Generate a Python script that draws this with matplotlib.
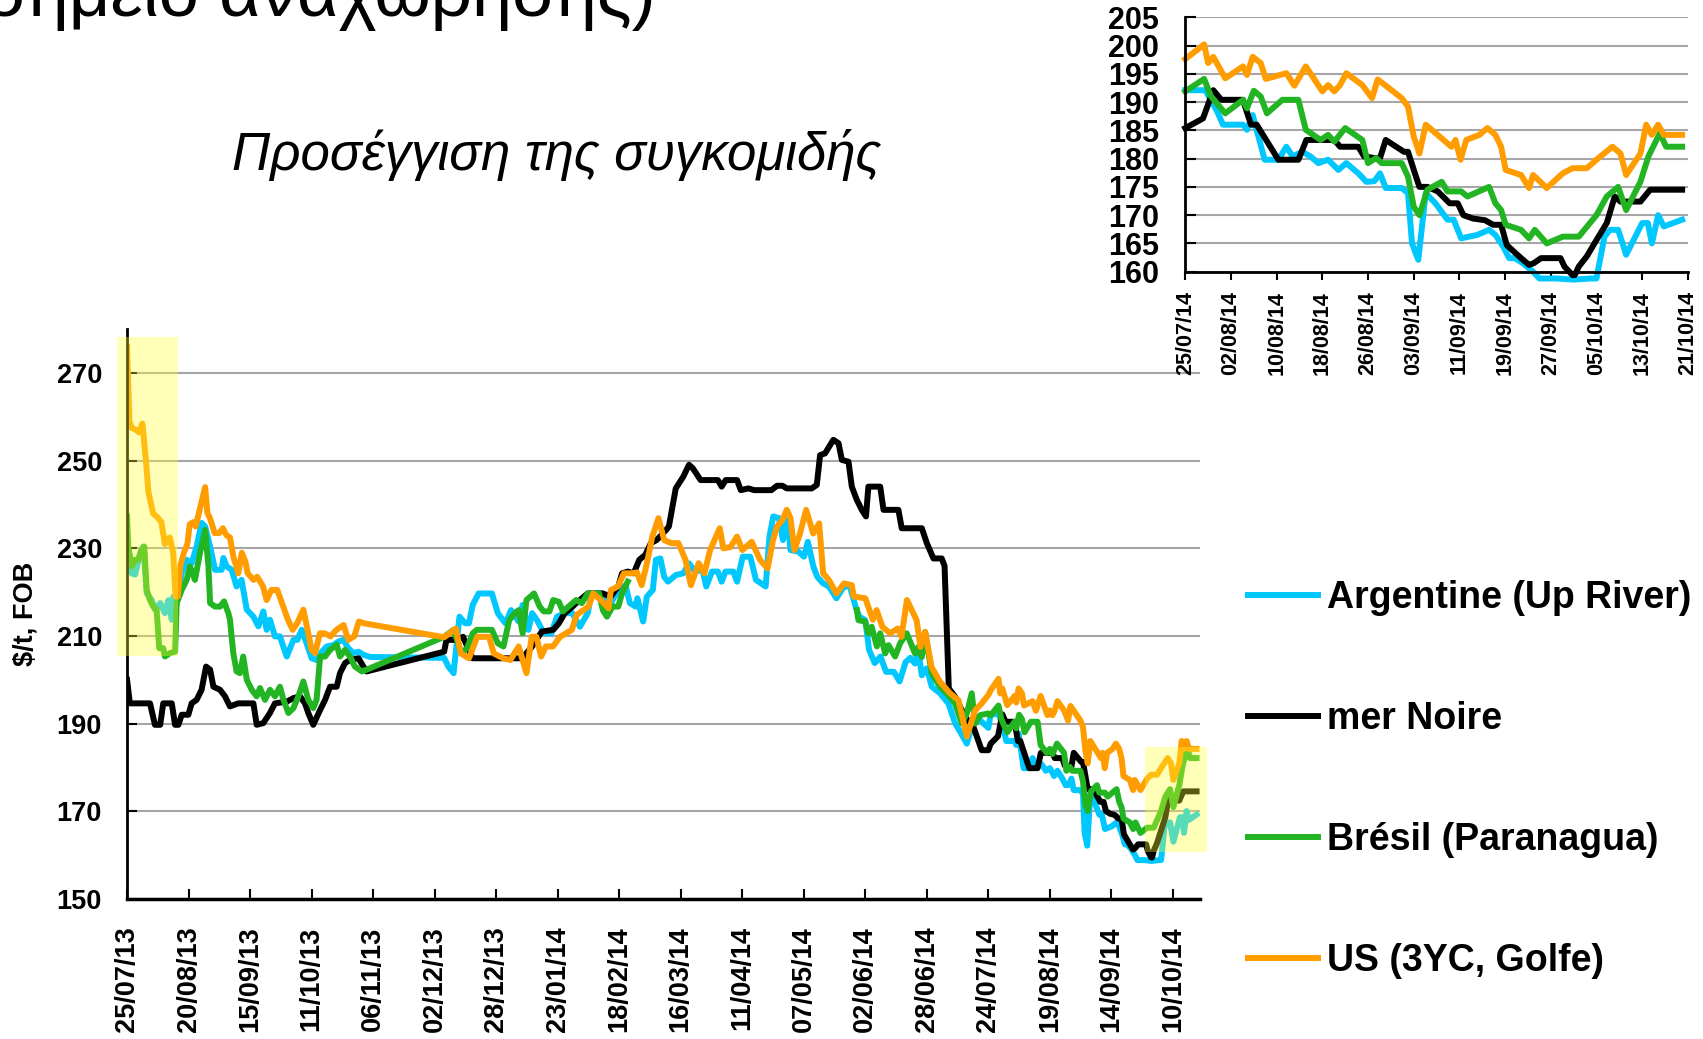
import matplotlib
matplotlib.use('Agg')
import matplotlib.pyplot as plt
import matplotlib.dates as mdates
from matplotlib.patches import Rectangle
import numpy as np
import pandas as pd

plt.rcParams['font.family'] = ['Liberation Sans', 'DejaVu Sans']
plt.rcParams['font.weight'] = 'bold'

start = pd.Timestamp('2013-07-25')

# wheat prices, $/t FOB -- x = days after 25/07/13
arg_days = [0, 2, 3.4, 5.5, 6.9, 8.3, 10.4, 11.8, 14, 16, 17.5, 18.9, 19.6, 21.7, 23.1, 25.2, 27.3, 29.4, 31.5, 33,
            35.1, 37.2, 40, 40.7, 42.1, 44.2, 46.3, 48.4, 50.6, 53.4, 55.5, 57.6, 59, 60.4, 62.5, 64.6, 67.5, 70.3,
            72, 73.8, 75.9, 78, 80.1, 82.3, 84.4, 87.2, 89.3, 91.4, 93.5, 95.6, 97.8, 99.9, 102.7, 134, 135.8, 138,
            140.5, 142.9, 144.5, 146.1, 148.6, 154.2, 156.7, 159.9, 162.3, 165.5, 167.2, 169.6, 171.2, 173.6, 176.1,
            179.3, 181.7, 185, 188.2, 191.4, 194.7, 196.3, 201.1, 202.8, 205.2, 208.4, 210.8, 212.5, 214.9, 215.7,
            218.1, 219.7, 222.2, 223.5, 225.4, 227, 228.6, 231.9, 235.1, 237.5, 240, 243.2, 244.8, 247.2, 249.7,
            251.3, 252.9, 256.2, 257.8, 260.2, 263.4, 265.8, 269.9, 271.5, 273.1, 275.5, 277.2, 278.8, 280.4, 283.6,
            286.1, 287.7, 290.1, 291.7, 294.2, 296.6, 299.8, 303, 305.5, 307.9, 309.5, 312, 313.6, 316, 318.4, 320.8,
            324.1, 326.5, 329, 331, 333, 334.4, 335.9, 338, 340.1, 343.6, 347.1, 350, 352.1, 354.9, 357, 359.8, 362,
            364, 365, 368.5, 370.6, 371.6, 375.1, 375.8, 376.8, 378.9, 381.3, 382.7, 383.8, 385.5, 386.9, 388.3, 390,
            391.8, 393.2, 395.3, 396.7, 398.1, 399.1, 400.1, 402.9, 404, 404.7, 405.8, 407.1, 408.8, 410.9, 412,
            413.3, 416.1, 418.2, 419.3, 420.7, 421.7, 422.7, 424.1, 425.9, 427, 430, 433, 436, 437, 438.4, 439.4,
            440.8, 442.2, 445, 446, 446.7, 447.8, 448.8, 452]
arg_vals = [227, 224.3, 224, 228.9, 230.4, 219.8, 218.2, 216, 217.5, 215.2, 218.2, 213.7, 219, 219, 224.3, 227.4,
            226.6, 230.4, 235.8, 235, 230.4, 225.1, 225.1, 227.8, 225.9, 225.1, 221.3, 222.8, 216, 214.4, 212.2,
            215.6, 211.4, 213.7, 209.9, 209.9, 205.3, 209.1, 209.1, 211.4, 208.3, 204.9, 204.5, 206.4, 207.6, 207.9,
            208.7, 209.1, 207.2, 206.1, 206.4, 205.7, 205.2, 205, 203, 201.5, 214.4, 212.9, 212.9, 217.1, 219.7,
            219.7, 215.2, 212.9, 215.9, 213.3, 217.1, 211.4, 215.2, 213.3, 210.6, 210.6, 214.4, 215.2, 215.2, 212.1,
            215.2, 219.7, 219.7, 215.2, 218.2, 221.3, 221.3, 217.5, 216.7, 218.6, 213.3, 219, 220.5, 227.4, 227.7,
            223.5, 222.4, 223.9, 224.3, 226.6, 224.7, 225.1, 221.3, 224.7, 224.7, 222.4, 224.7, 224.7, 222.4, 228.1,
            228.1, 222.8, 221.3, 232.7, 237.3, 236.9, 231.9, 238, 229.6, 229.3, 228.1, 231.5, 225.8, 223.5, 222,
            221.3, 218.6, 221.3, 221.3, 216.7, 214.4, 213.6, 206.8, 203.8, 205.3, 201.8, 201.8, 199.6, 204, 205,
            203.7, 206.8, 201, 202.6, 198.4, 196.9, 194.6, 190, 188.1, 185.4, 189.2, 191.1, 190, 189, 192.1, 192.1,
            188.3, 186, 186, 185.1, 187.7, 179.8, 179.8, 182.1, 180.4, 181.2, 180.4, 179.2, 179.8, 178, 179.2, 177.4,
            175.9, 176, 177.4, 174.8, 174.8, 173.9, 165, 162.1, 173.9, 172.1, 169.2, 169.2, 165.9, 166.5, 167.4,
            166.5, 164.4, 162.4, 162.4, 161.5, 160, 158.8, 158.8, 158.6, 158.8, 158.8, 166.2, 167.4, 167.4, 163,
            168.6, 168.6, 165, 170, 168, 169.2]

bs_days = [0, 1.2, 9.7, 11.8, 14, 15.3, 18.9, 20.3, 21.7, 23.1, 25.9, 27.3, 29.4, 31.5, 33.4, 35.1, 36.5, 39.3,
           41.4, 43.5, 47, 53.4, 54.8, 57.6, 60.4, 62.5, 67.5, 70.3, 73.1, 75.2, 76.6, 78.7, 81.6, 83.7, 85.8, 88.6,
           90, 92.1, 94.2, 97.8, 99.9, 101.3, 134, 135, 139.7, 142, 146, 167, 171.2, 175.3, 180.1, 182.5, 185,
           187.5, 189.8, 194.7, 201.1, 204.4, 207.6, 209.2, 211.6, 214.1, 216.5, 219, 221.4, 223.8, 227.8, 229,
           231.9, 235.1, 237.5, 239.1, 242.4, 249.7, 251.3, 253, 257.8, 259.4, 262.6, 265, 272.3, 274.7, 277, 278.8,
           289.4, 291.5, 292.9, 295, 298.5, 300.7, 302.1, 304.9, 306.3, 308.4, 310.5, 312.3, 313.3, 318.3, 319.7,
           326, 327.4, 335.9, 338, 340.8, 344.3, 345.5, 347.3, 350, 352.1, 354.2, 357.7, 361.2, 364, 365, 368.1,
           369.9, 371.3, 375.1, 376.5, 377.5, 381.3, 384.8, 386.2, 391.1, 392.1, 395.3, 396.3, 398.1, 399.1, 400.1,
           403.3, 404, 405.3, 406, 407.4, 409.2, 411.3, 412.7, 413.7, 415.4, 417.5, 418.9, 420.3, 421.3, 423.8,
           425.2, 426, 427.3, 430.7, 431.4, 432.8, 433.2, 433.9, 435.3, 437, 438.8, 440.2, 441.2, 444.7, 446.4, 452]
bs_vals = [200, 194.6, 194.6, 189.7, 189.7, 194.6, 194.6, 189.7, 189.7, 192, 192, 194.6, 195.4, 197.7, 203, 202.3,
           198.4, 197.7, 196.2, 193.9, 194.6, 194.6, 189.7, 190.1, 192.4, 194.6, 195, 195.8, 196.2, 194.6, 192.4,
           189.7, 193.1, 195.4, 198.4, 198.4, 201.5, 203.8, 204.5, 204.9, 203, 201.9, 206.4, 209.1, 209.1, 209.8,
           204.9, 204.9, 207.6, 211, 211.4, 212.9, 215.2, 216.3, 217.5, 219.7, 219.7, 219, 221.3, 224.3, 224.7,
           224.3, 227.4, 228.5, 231.2, 231.9, 234.2, 235, 243.7, 246.4, 249.1, 248.3, 245.6, 245.6, 244.1, 245.6,
           245.6, 243.3, 243.7, 243.3, 243.3, 244.3, 244.3, 243.7, 243.7, 244.5, 251.3, 251.7, 254.8, 254, 250.2,
           249.8, 244.1, 241.1, 238.8, 237.3, 244.1, 244.1, 238.8, 238.8, 234.6, 234.6, 231.2, 227.7, 227.7, 226,
           198, 196.1, 193.8, 191.5, 189.2, 183.9, 183.9, 185.4, 187.1, 192.1, 190.4, 190.4, 186, 186, 179.8,
           179.8, 183.3, 183.3, 182.1, 182.1, 180.4, 180.1, 180.1, 183.3, 181.2, 181.2, 177.1, 175, 175, 174.2,
           172.1, 172.1, 170, 169.4, 169.1, 168.3, 168.3, 164.7, 162.4, 161.2, 161.5, 162.4, 162.4, 160.9, 159.4,
           159.4, 160.9, 162.7, 165.6, 168.6, 173.3, 172.4, 172.4, 174.5, 174.5]

br_days = [0, 0.5, 2, 3.4, 4.8, 6.2, 7.3, 8.3, 9.7, 11.1, 12.5, 13.6, 15.3, 16, 18.2, 20.3, 21, 23.1, 25.2, 26.6,
           28.7, 30.8, 33, 34.4, 35.1, 37.2, 39.3, 41, 42.8, 43.5, 44.9, 46.3, 47.7, 49.1, 50.6, 52.7, 54.8, 56.2,
           58.3, 60.4, 62.5, 64.6, 66.1, 68.2, 70.3, 72.4, 74.5, 76.6, 78.7, 80.1, 81.6, 83.7, 85.8, 88.6, 90, 92.1,
           94.2, 96.3, 99.2, 101.3, 134, 138, 141.3, 143.7, 146.1, 147.8, 154.2, 156.7, 159.1, 161.5, 163.9, 165.5,
           167.2, 168.8, 172, 174.4, 176.1, 178.5, 180.1, 182.5, 184.2, 187.4, 189.8, 192.2, 194.7, 199.5, 201.1,
           202.8, 205.2, 207.6, 209.2, 211.6, 260, 308.4, 309.1, 311.9, 313.3, 314.7, 316.9, 318.3, 320.4, 321.8,
           324.6, 326.7, 329.5, 333, 334.4, 335.9, 337.3, 340.1, 343.6, 346.4, 349.9, 352.8, 354.9, 357, 358.4,
           360.5, 364, 365, 368.3, 369.5, 372, 375.1, 375.8, 377, 378.2, 379.3, 382, 384.8, 386.1, 388.7, 390,
           391.1, 393, 396, 397, 398.4, 399.4, 402.9, 404, 405, 406, 407.4, 409.9, 410.9, 413.3, 414.4, 418.2,
           419.3, 420.3, 421.1, 423.8, 425.2, 426.2, 428.3, 431.1, 433.9, 437, 438.8, 440.8, 442.2, 444.7, 446.1,
           448.1, 449.2, 452]
br_vals = [237.3, 230.4, 225.9, 227.4, 227.4, 229.7, 230.4, 220.5, 218.2, 216.7, 216, 207.2, 207.2, 205.3, 206.1,
           206.4, 217.5, 220.5, 222.8, 225.9, 222.8, 228.9, 234.2, 225.9, 217.5, 216.7, 216.7, 217.9, 215.2, 213.7,
           206.1, 201.9, 201.5, 205.3, 200, 197.7, 196.2, 198.1, 195.4, 197.7, 196.2, 198.4, 195.4, 192.4, 193.5,
           196.2, 199.6, 195.4, 193.5, 195.4, 205.3, 205.3, 206.8, 208, 205.3, 206.8, 205.3, 203, 201.9, 202.3,
           209.8, 211.4, 206.1, 207.2, 210.6, 211.4, 211.4, 208.3, 207.6, 213.6, 215.2, 215.9, 210.6, 218.2, 219.7,
           216.7, 215.6, 215.6, 218.2, 217.8, 215.6, 217.1, 218.2, 217.5, 219.7, 219.7, 215.9, 214.4, 216.7, 216.7,
           219.7, 222.4, np.nan, 215.9, 213.6, 213.3, 210.6, 212.1, 207.6, 210.6, 206, 207.9, 205.3, 208.3, 210.6,
           206, 207.5, 205.2, 210.9, 201.4, 198.4, 196.9, 194.6, 190, 192.3, 196.9, 190, 191.9, 192.3, 191.9, 194.1,
           191, 188, 190.4, 188.9, 192, 191, 188, 190.4, 190.4, 185.1, 183.3, 184.2, 183, 185.4, 183.3, 179.2,
           180.1, 179.2, 179.2, 176.8, 171.5, 170, 174.5, 175.9, 174.2, 174.2, 173.3, 175, 172.1, 170.9, 168.3,
           167.4, 165.9, 167.4, 165, 166.2, 166.2, 170, 173.3, 175, 170.9, 175.9, 180.4, 184.5, 182.1, 182.1]

us_days = [0, 1, 2, 4, 5, 6.5, 8, 9, 11, 13, 14.5, 16, 18, 19.5, 20.5, 21.5, 22.5, 24, 25.5, 26.5, 28, 29, 31, 33,
           34, 35, 37, 39, 40.5, 42, 43.5, 45, 47, 48.5, 50, 51, 53.5, 55, 57.5, 59, 61, 63.5, 65.5, 68, 70, 72,
           74.5, 76, 78, 79.5, 81.5, 83.5, 86, 88.5, 91.5, 93.5, 96, 98, 100, 134, 139, 141, 144.5, 148, 153, 155,
           159, 162, 165.5, 168.8, 171, 173, 175, 177, 180, 183, 188, 190, 195, 197, 201, 203.5, 204.5, 207.5, 210,
           213, 215.5, 217.5, 219.7, 222, 224.6, 227, 230, 233, 236, 238.3, 241.6, 244, 246.4, 250.5, 252, 255,
           257.8, 260, 264, 267.5, 270.7, 273, 274.7, 277, 278.8, 280.4, 282, 284.4, 287, 290, 292.5, 294.2, 296.6,
           299.8, 303, 306.3, 307.1, 312, 315.2, 316.8, 319.2, 322.5, 325.7, 327.3, 329.6, 333.7, 335.3, 337.3, 340,
           343.6, 347.8, 351.4, 354.9, 358.4, 361.2, 364, 365, 368.3, 369, 369.9, 372, 375.1, 375.8, 376.8, 378.2,
           379.1, 382.7, 384.1, 386.1, 389, 390, 391.1, 392.1, 393.2, 396, 397.7, 398.7, 402.9, 404, 405, 406,
           407.1, 411.6, 412.3, 413.2, 414.2, 416.5, 417.9, 419.3, 420.3, 421.1, 423.8, 425.2, 425.9, 428.3, 431.1,
           432.8, 435.3, 437.7, 439.8, 441.2, 442.2, 444.7, 445.7, 446.7, 447.8, 448.8, 452]
us_vals = [276, 259, 257.5, 257, 256.5, 258.5, 250, 243, 238, 237, 236, 231, 232.5, 229, 219, 219, 226, 229, 231,
           235.5, 236, 235, 239.5, 244, 238, 237, 233.5, 233.5, 234.6, 233, 232.5, 228, 224.3, 229, 227, 224.3,
           222.8, 223.5, 221.3, 218.2, 220.5, 220.5, 217.5, 213.7, 211.4, 213, 216, 212.2, 206.8, 206.1, 210.6,
           210.6, 209.9, 211.4, 212.5, 209.1, 209.9, 213.3, 212.9, 209.7, 211.7, 206, 204.9, 209.8, 209.8, 206,
           204.9, 204.5, 207.6, 201.5, 209.8, 209.8, 205.3, 207.6, 207.6, 209.8, 211.4, 214.8, 216.7, 219.7, 217.8,
           216.3, 220.5, 221.3, 224.3, 224.3, 224.5, 221.6, 226.6, 232.7, 236.9, 231.9, 231.2, 231.2, 227.4, 221.6,
           226.6, 224.3, 229.6, 234.6, 230, 230.3, 232.7, 229.6, 231.5, 227.4, 225.4, 231.9, 235, 236.5, 238.8,
           236.9, 229.6, 233.4, 238.8, 233.4, 235.7, 224.3, 222.8, 219.7, 222, 221.6, 219, 218.6, 213.7, 215.9,
           212.1, 210.6, 211.7, 209.8, 218.2, 213.6, 207.5, 210.9, 202.9, 199.5, 196.9, 195.3, 187, 193, 194.6,
           196.5, 197.6, 200.2, 196.9, 198, 194.2, 196.3, 194.8, 198, 196.9, 194.1, 195.1, 192.9, 196.3, 191.9,
           193, 191.9, 193, 195.1, 193, 190.7, 194, 190.7, 189.2, 183.9, 180.9, 186, 182.1, 183.3, 179.8, 183.3,
           184.2, 185.4, 184.2, 182.1, 178, 177.1, 174.8, 177.1, 174.8, 177.4, 178.3, 178.3, 180.4, 182.1, 180.9,
           177.1, 180.9, 186, 184.2, 186, 184.2, 184.2]

labels = ['Argentine (Up River)', 'mer Noire', 'Brésil (Paranagua)', 'US (3YC, Golfe)']
colors = ['#00c8ff', '#000000', '#22b422', '#ff9c00']
series = [(arg_days, arg_vals), (bs_days, bs_vals), (br_days, br_vals), (us_days, us_vals)]

main_ticks = pd.date_range('2013-07-25', periods=18, freq='26D')
inset_ticks = pd.date_range('2014-07-25', periods=12, freq='8D')

fig = plt.figure(figsize=(17.03, 10.39), dpi=100)

# main chart
ax = fig.add_axes([0.0746, 0.1351, 0.6301, 0.5478])
lines = []
for (d, v), c, lab in zip(series, colors, labels):
    x = start + pd.to_timedelta(np.array(d), unit='D')
    ln, = ax.plot(x, v, color=c, lw=4.3, label=lab)
    lines.append(ln)

ax.set_xlim(start, start + pd.Timedelta(days=453.5))
ax.set_ylim(150, 280)
ax.set_yticks(range(150, 271, 20))
ax.set_xticks(main_ticks)
ax.xaxis.set_major_formatter(mdates.DateFormatter('%d/%m/%y'))
ax.tick_params(axis='x', direction='in', length=7, width=1.5, rotation=90, pad=20, labelsize=19.5)
ax.tick_params(axis='y', direction='in', length=7, width=1.5, pad=18, labelsize=19.5)
ax.yaxis.grid(True, color='#a6a6a6', lw=1.5)
ax.set_axisbelow(True)
for s in ['top', 'right']:
    ax.spines[s].set_visible(False)
ax.spines['left'].set_linewidth(2)
ax.spines['bottom'].set_linewidth(2.5)
ax.set_ylabel('$/t, FOB', fontsize=19.5, fontweight='bold', labelpad=13)

# yellow highlights
d0 = mdates.date2num(start)
ax.add_patch(Rectangle((d0 - 4.2, 205.4), 25.8, 72.9, facecolor='#ffff33', alpha=0.35,
                       lw=0, zorder=5, clip_on=False))
ax.add_patch(Rectangle((d0 + 430.3, 160.7), 26.1, 24.0, facecolor='#ffff33', alpha=0.35,
                       lw=0, zorder=5, clip_on=False))

# inset: last three months
ax2 = fig.add_axes([0.696, 0.7385, 0.2951, 0.2449])
for (d, v), c in zip(series, colors):
    d = np.array(d)
    v = np.array(v, dtype=float)
    keep = d >= 365
    x = start + pd.to_timedelta(d[keep], unit='D')
    ax2.plot(x, v[keep], color=c, lw=4.3, clip_on=False)
ax2.set_xlim(pd.Timestamp('2014-07-25'), pd.Timestamp('2014-10-21'))
ax2.set_ylim(160, 205)
ax2.set_yticks(range(160, 206, 5))
ax2.set_xticks(inset_ticks)
ax2.xaxis.set_major_formatter(mdates.DateFormatter('%d/%m/%y'))
ax2.tick_params(axis='x', direction='out', length=6, width=1.5, rotation=90, pad=8, labelsize=15.5)
ax2.tick_params(axis='y', direction='in', length=8, width=1.5, pad=19, labelsize=22)
ax2.yaxis.grid(True, color='#a6a6a6', lw=1.5)
ax2.set_axisbelow(True)
for s in ['top', 'right']:
    ax2.spines[s].set_visible(False)
ax2.spines['left'].set_linewidth(2)
ax2.spines['bottom'].set_linewidth(2)

# legend
fig.legend(lines, labels, loc='center left', bbox_to_anchor=(0.733, 0.2498), frameon=False,
           fontsize=27, handlelength=1.85, handletextpad=0.25, labelspacing=2.27,
           borderpad=0, borderaxespad=0)

# slide texts
fig.text(656 / 1703, 1 - 16 / 1039, 'σημείο αναχώρησης)', fontsize=52, fontweight='normal',
         ha='right', va='baseline')
fig.text(232 / 1703, 1 - 170 / 1039, 'Προσέγγιση της συγκομιδής', fontsize=38, fontweight='normal',
         style='italic', ha='left', va='baseline')

fig.savefig('out.png', dpi=100)
